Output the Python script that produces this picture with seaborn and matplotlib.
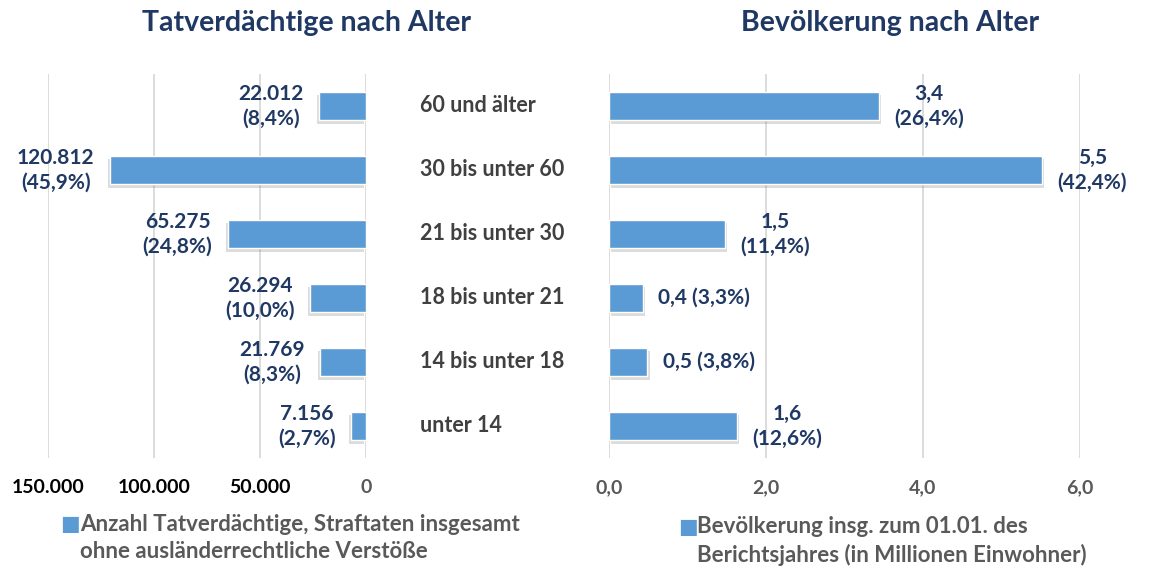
import numpy as np
import pandas as pd
import matplotlib.pyplot as plt
import matplotlib.patheffects as pe
from matplotlib.ticker import FuncFormatter
from matplotlib.transforms import blended_transform_factory
import seaborn as sns

# data
age_groups = ["60 und älter", "30 bis unter 60", "21 bis unter 30",
              "18 bis unter 21", "14 bis unter 18", "unter 14"]
suspects = [22012, 120812, 65275, 26294, 21769, 7156]
suspects_pct = ["8,4%", "45,9%", "24,8%", "10,0%", "8,3%", "2,7%"]
population = [3.44, 5.52, 1.48, 0.43, 0.49, 1.63]
population_lbl = ["3,4", "5,5", "1,5", "0,4", "0,5", "1,6"]
population_pct = ["26,4%", "42,4%", "11,4%", "3,3%", "3,8%", "12,6%"]
one_line = [False, False, False, True, True, False]

left_ticks = [150000, 100000, 50000, 0]
right_ticks = [0, 2, 4, 6]

df = pd.DataFrame({"Alter": age_groups, "Tatverdaechtige": suspects,
                   "Bevoelkerung": population})

sns.set_style("white")
plt.rcParams["font.family"] = ["Lato", "DejaVu Sans"]
plt.rcParams["font.weight"] = "bold"

blue = "#5B9BD5"
navy = "#1F3864"
grey = "#595959"
grid = "#D9D9D9"

fig = plt.figure(figsize=(11.63, 5.72), dpi=100)
ax1 = fig.add_axes([48 / 1163, 1 - 458 / 572, 318 / 1163, 384 / 572])
ax2 = fig.add_axes([609 / 1163, 1 - 458 / 572, 471 / 1163, 384 / 572])

sns.barplot(data=df, y="Alter", x="Tatverdaechtige", orient="h", color=blue,
            saturation=1, width=0.45, ax=ax1)
sns.barplot(data=df, y="Alter", x="Bevoelkerung", orient="h", color=blue,
            saturation=1, width=0.45, ax=ax2)

for ax, off in [(ax1, (-1.5, -2.5)), (ax2, (1.5, -2.5))]:
    for p in ax.patches:
        p.set_path_effects([pe.SimplePatchShadow(offset=off, shadow_rgbFace="#8c8c8c", alpha=0.3),
                            pe.Normal()])
    ax.set_axisbelow(True)
    ax.grid(axis="x", color=grid, linewidth=1.3)
    ax.grid(axis="y", visible=False)
    sns.despine(ax=ax, left=True, bottom=True, top=True, right=True)
    ax.set_ylabel("")
    ax.set_xlabel("")
    ax.set_yticks([])
    ax.tick_params(axis="x", length=0, pad=15, labelsize=14)
    ax.set_ylim(5.5, -0.5)

ax1.set_xlim(150000, 0)
ax1.set_xticks(left_ticks)
ax1.xaxis.set_major_formatter(FuncFormatter(lambda v, p: f"{int(v):,}".replace(",", ".")))
for lbl, v in zip(ax1.get_xticklabels(), left_ticks):
    lbl.set_color(grey if v == 0 else "black")
    lbl.set_fontweight("bold")

ax2.set_xlim(0, 6)
ax2.set_xticks(right_ticks)
ax2.xaxis.set_major_formatter(FuncFormatter(lambda v, p: f"{v:.1f}".replace(".", ",")))
for lbl in ax2.get_xticklabels():
    lbl.set_color(grey)
    lbl.set_fontweight("bold")

# data labels
for i, (v, pct) in enumerate(zip(suspects, suspects_pct)):
    txt = f"{v:,}".replace(",", ".") + f"\n({pct})"
    ax1.annotate(txt, (v, i), xytext=(-11, 0), textcoords="offset points",
                 ha="right", va="center", multialignment="center",
                 color=navy, fontsize=15, fontweight="bold", linespacing=1.3)

for i, (v, lb, pct, single) in enumerate(zip(population, population_lbl,
                                              population_pct, one_line)):
    txt = f"{lb} ({pct})" if single else f"{lb}\n({pct})"
    ax2.annotate(txt, (v, i), xytext=(11, 0), textcoords="offset points",
                 ha="left", va="center", multialignment="center",
                 color=navy, fontsize=15, fontweight="bold", linespacing=1.3,
                 annotation_clip=False)

# category labels in the middle
tr = blended_transform_factory(fig.transFigure, ax2.transData)
for i, name in enumerate(age_groups):
    ax2.text(420 / 1163, i, name, transform=tr, ha="left", va="center",
             color="#404040", fontsize=15.5, fontweight="bold")

# titles
fig.text(307 / 1163, 1 - 23 / 572, "Tatverdächtige nach Alter", ha="center",
         va="center", color=navy, fontsize=20.5, fontweight="bold")
fig.text(890 / 1163, 1 - 23 / 572, "Bevölkerung nach Alter", ha="center",
         va="center", color=navy, fontsize=20.5, fontweight="bold")

# legends
fig.text(60 / 1163, 1 - 524 / 572, "■", color=blue, fontsize=15,
         va="center", ha="left", family=["DejaVu Sans"])
fig.text(80 / 1163, 1 - 538 / 572,
         "Anzahl Tatverdächtige, Straftaten insgesamt\nohne ausländerrechtliche Verstöße",
         color=grey, fontsize=16, fontweight="bold", va="center", ha="left",
         linespacing=1.35)
fig.text(678 / 1163, 1 - 527 / 572, "■", color=blue, fontsize=15,
         va="center", ha="left", family=["DejaVu Sans"])
fig.text(697 / 1163, 1 - 541 / 572,
         "Bevölkerung insg. zum 01.01. des\nBerichtsjahres (in Millionen Einwohner)",
         color=grey, fontsize=16, fontweight="bold", va="center", ha="left",
         linespacing=1.35)

fig.savefig("out.png", dpi=100)
